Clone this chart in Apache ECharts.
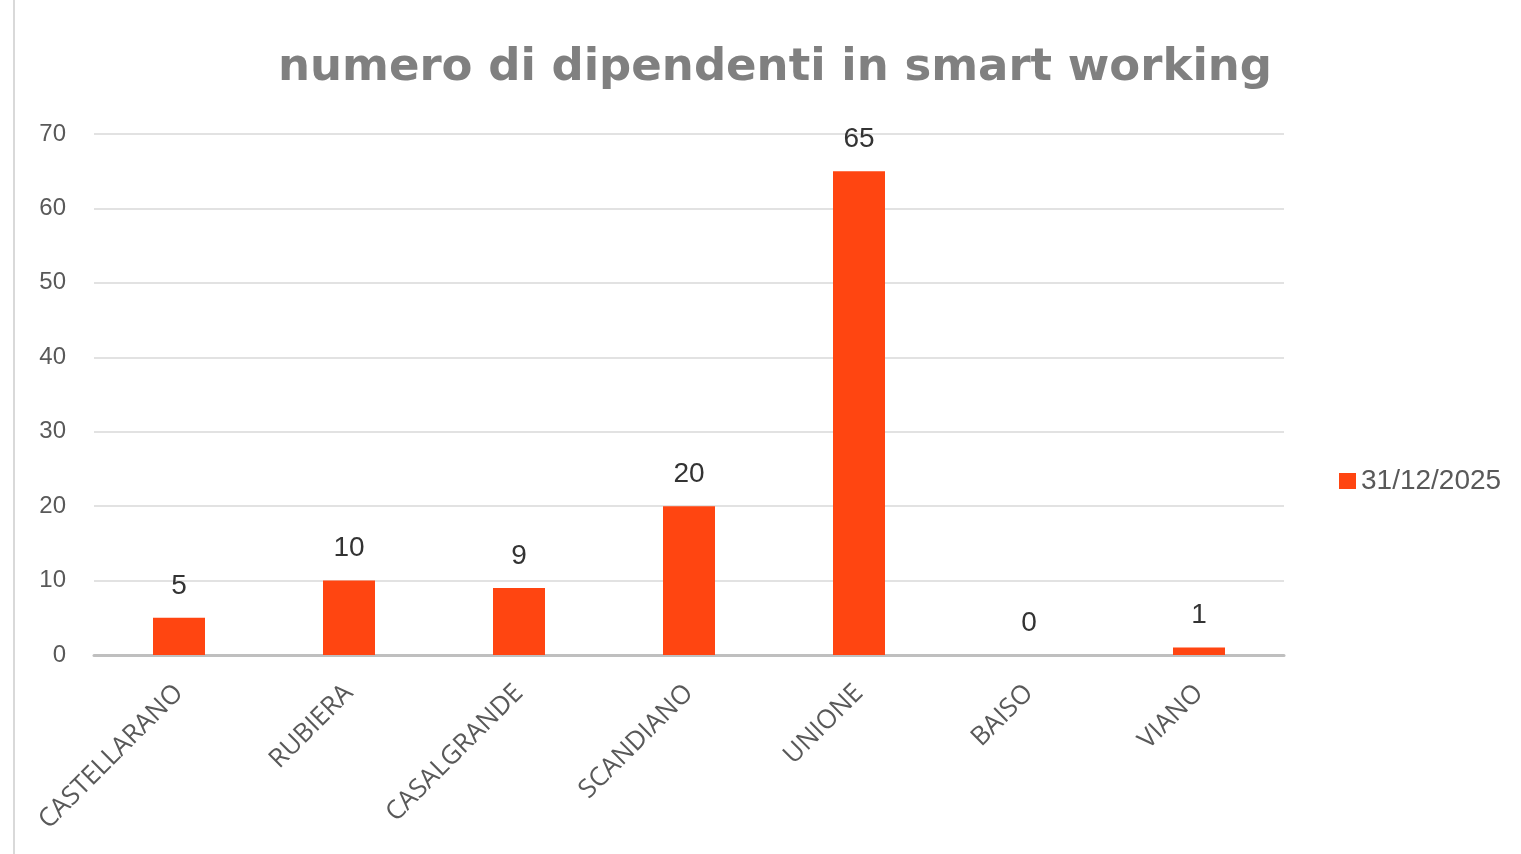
<!DOCTYPE html>
<html><head><meta charset="utf-8">
<script src="https://cdn.jsdelivr.net/npm/echarts@6/dist/echarts.min.js"></script>
<style>
html,body{margin:0;padding:0;background:#fff;}
#frame{position:absolute;left:13px;top:0;width:1508px;height:854px;border-left:2px solid #d9d9d9;}
#c{position:absolute;left:0;top:0;width:1521px;height:854px;}
</style></head>
<body><div id="frame"></div><div id="c"></div>
<script>
const categories = ['CASTELLARANO','RUBIERA','CASALGRANDE','SCANDIANO','UNIONE','BAISO','VIANO'];
const seriesName = '31/12/2025';
const values = [5, 10, 9, 20, 65, 0, 1];
const titleText = 'numero di dipendenti in smart working';

const chart = echarts.init(document.getElementById('c'), null, {renderer:'canvas'});
chart.setOption({
  backgroundColor: 'transparent',
  animation: false,
  title: {
    text: titleText,
    left: 770, top: 41, textAlign: 'center',
    textStyle: {fontFamily: 'DejaVu Sans', fontWeight: 'bold', fontSize: 45, color: '#808080'}
  },
  legend: {
    data: [seriesName],
    orient: 'vertical',
    left: 1334, top: 462,
    itemWidth: 17, itemHeight: 16, itemGap: 6,
    icon: 'rect',
    textStyle: {fontFamily: 'Liberation Sans', fontSize: 28, color: '#595959'}
  },
  grid: {left: 94, right: 237, top: 134, bottom: 199, containLabel: false},
  xAxis: {
    type: 'category', data: categories,
    axisLine: {lineStyle: {color: '#bfbfbf', width: 3}},
    axisTick: {show: false},
    axisLabel: {rotate: 45, interval: 0, margin: 34, color: '#595959',
      fontFamily: 'Open Sans', fontSize: 26}
  },
  yAxis: {
    type: 'value', min: 0, max: 70, interval: 10,
    axisLine: {show: false}, axisTick: {show: false},
    splitLine: {lineStyle: {color: '#d9d9d9', width: 1.5}},
    axisLabel: {margin: 28, color: '#595959', fontFamily: 'Liberation Sans', fontSize: 24}
  },
  series: [{
    name: seriesName, type: 'bar', data: values, barWidth: 52,
    itemStyle: {color: '#ff4511'},
    label: {show: true, position: 'top', distance: 18, color: '#333333',
      fontFamily: 'Liberation Sans', fontSize: 28}
  }]
});
</script></body></html>
